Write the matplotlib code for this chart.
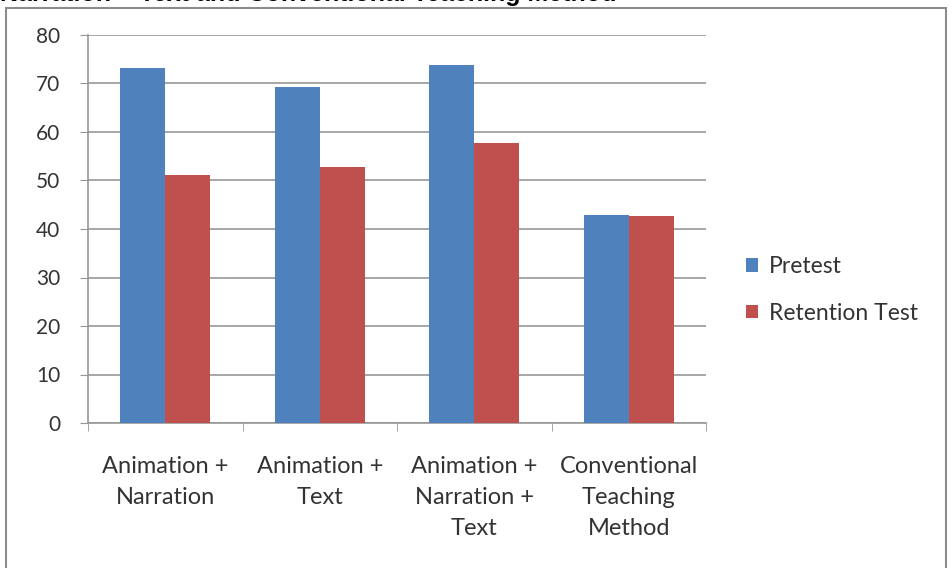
import numpy as np
import matplotlib.pyplot as plt
from matplotlib.patches import Rectangle

categories = ['Animation +\nNarration', 'Animation +\nText',
              'Animation +\nNarration +\nText', 'Conventional\nTeaching\nMethod']
pretest = [73.2, 69.3, 73.8, 42.9]
retention = [51.1, 52.8, 57.7, 42.7]
yticks = [0, 10, 20, 30, 40, 50, 60, 70, 80]

plt.rcParams['font.family'] = ['Lato', 'DejaVu Sans']

fig = plt.figure(figsize=(9.52, 5.68), dpi=100)
ax = fig.add_axes([88 / 952, 1 - 423 / 568, (706 - 88) / 952, (423 - 35) / 568])

x = np.arange(len(categories))
w = 0.29
ax.bar(x - w / 2, pretest, w, color='#4F81BD', label='Pretest', zorder=3)
ax.bar(x + w / 2, retention, w, color='#C0504D', label='Retention Test', zorder=3)

ax.set_xlim(-0.5, 3.5)
ax.set_ylim(0, 80)
ax.set_yticks(yticks)
ax.yaxis.grid(True, color='#979797', linewidth=1.2, zorder=0)
ax.set_xticks(x)
ax.set_xticklabels(categories, fontsize=17, color='#333333', linespacing=1.58)
ax.set_xticks(np.arange(-0.5, 4, 1), minor=True)
ax.tick_params(axis='x', which='major', length=0, pad=24)
ax.tick_params(axis='x', which='minor', length=6, color='#979797')
ax.tick_params(axis='y', length=6, color='#979797', labelsize=15, labelcolor='#333333', pad=14)
for s in ['top', 'right']:
    ax.spines[s].set_visible(False)
for s in ['left', 'bottom']:
    ax.spines[s].set_color('#979797')
    ax.spines[s].set_linewidth(1.2)

handles, labels = ax.get_legend_handles_labels()
fig.legend(handles, labels, loc='center left', bbox_to_anchor=(725 / 952, 1 - 290 / 568),
           frameon=False, fontsize=16.5, handlelength=0.55, handleheight=0.55,
           labelspacing=1.1, handletextpad=0.45, labelcolor='#333333')

fig.patches.append(Rectangle((6 / 952, -0.1), (946 - 6) / 952, 1.1 - 8 / 568,
                             transform=fig.transFigure, fill=False,
                             edgecolor='#8c8c8c', linewidth=1.5))
fig.text(0.0, 1 - 1 / 568, 'Narration + Text and Conventional Teaching Method',
         fontsize=18, weight='bold', family='Liberation Sans', va='baseline')

fig.savefig('out.png', dpi=100)
